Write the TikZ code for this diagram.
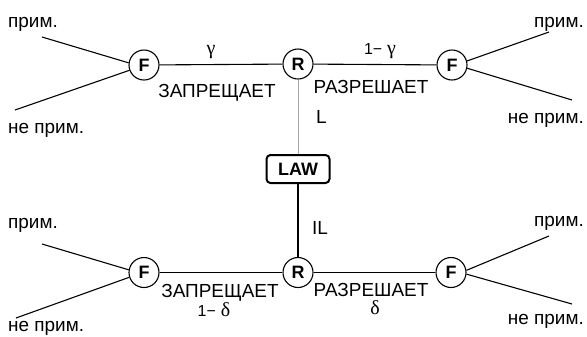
\documentclass[tikz,border=0pt]{standalone}
\usepackage{fontspec}
\setmainfont{Liberation Sans}
\newfontfamily\grk{Liberation Serif}
\begin{document}
\begin{tikzpicture}[x=1bp,y=-1bp,
  every node/.style={font=\fontsize{19}{21}\selectfont},
  circ/.style={draw, circle, minimum size=30bp, inner sep=0pt, line width=1.1bp, font=\fontsize{18}{20}\selectfont\bfseries},
  lbl/.style={inner sep=0pt, anchor=base},
  lblw/.style={inner sep=0pt, anchor=base west},
  lble/.style={inner sep=0pt, anchor=base east},
  gk/.style={inner sep=0pt, anchor=base, font=\fontsize{20}{22}\selectfont\grk},
  ln/.style={line width=1.1bp},
  lawbox/.style={draw, rounded corners=4bp, line width=2bp, minimum width=63bp, minimum height=28bp, inner sep=0pt, font=\fontsize{18}{20}\selectfont\bfseries}]
\useasboundingbox (0,0) rectangle (587,336);
% nodes
\node[circ] (F1) at (144,65) {F};
\node[circ] (R1) at (298,64) {R};
\node[circ] (F2) at (452,65) {F};
\node[lawbox] (law) at (298,169) {LAW};
\node[circ] (F3) at (144,272.5) {F};
\node[circ] (R2) at (298,272.5) {R};
\node[circ] (F4) at (451,272.5) {F};
% free ends
\coordinate (a1) at (42,37);
\coordinate (a2) at (15,110);
\coordinate (b1) at (549,32);
\coordinate (b2) at (572,100);
\coordinate (c1) at (42,244);
\coordinate (c2) at (16,318);
\coordinate (d1) at (549,236);
\coordinate (d2) at (572,304);
% connectors
\draw[ln] (F1) -- (R1);
\draw[ln] (R1) -- (F2);
\draw[ln] (F3) -- (R2);
\draw[ln] (R2) -- (F4);
\draw[line width=1bp, gray!70] (R1) -- (law);
\draw[ln] (law) -- (R2);
\draw[ln] (a1) -- (F1.172);
\draw[ln] (a2) -- (F1.200);
\draw[ln] (F2.15) -- (b1);
\draw[ln] (F2.-12) -- (b2);
\draw[ln] (c1) -- (F3.170);
\draw[ln] (c2) -- (F3.198);
\draw[ln] (F4.8) -- (d1);
\draw[ln] (F4.-6) -- (d2);
% labels
\node[lblw] (t1) at (8,27) {прим.};
\node[lblw] (t2) at (8,133) {не прим.};
\node[lble] (t3) at (584,27) {прим.};
\node[lble] (t4) at (584,123) {не прим.};
\node[lblw] (t5) at (8,228) {прим.};
\node[lblw] (t6) at (8,331) {не прим.};
\node[lble] (t7) at (584,226) {прим.};
\node[lble] (t8) at (584,324) {не прим.};
\node[lbl] (z1) at (217,97) {ЗАПРЕЩАЕТ};
\node[lbl] (r1) at (371,93) {РАЗРЕШАЕТ};
\node[lblw] (l1) at (316,123) {L};
\node[lbl] (z2) at (220,297) {ЗАПРЕЩАЕТ};
\node[lbl] (r2) at (371,296) {РАЗРЕШАЕТ};
\node[lblw] (l2) at (312,234) {IL};
\node[gk] (g1) at (211,54) {γ};
\node[gk] (g2) at (380,54) {{\fontsize{16}{18}\rmfamily\selectfont 1−} γ};
\node[gk] (g3) at (214,316) {{\fontsize{16}{18}\rmfamily\selectfont 1−} δ};
\node[gk] (g4) at (375,314) {δ};
\end{tikzpicture}
\end{document}
